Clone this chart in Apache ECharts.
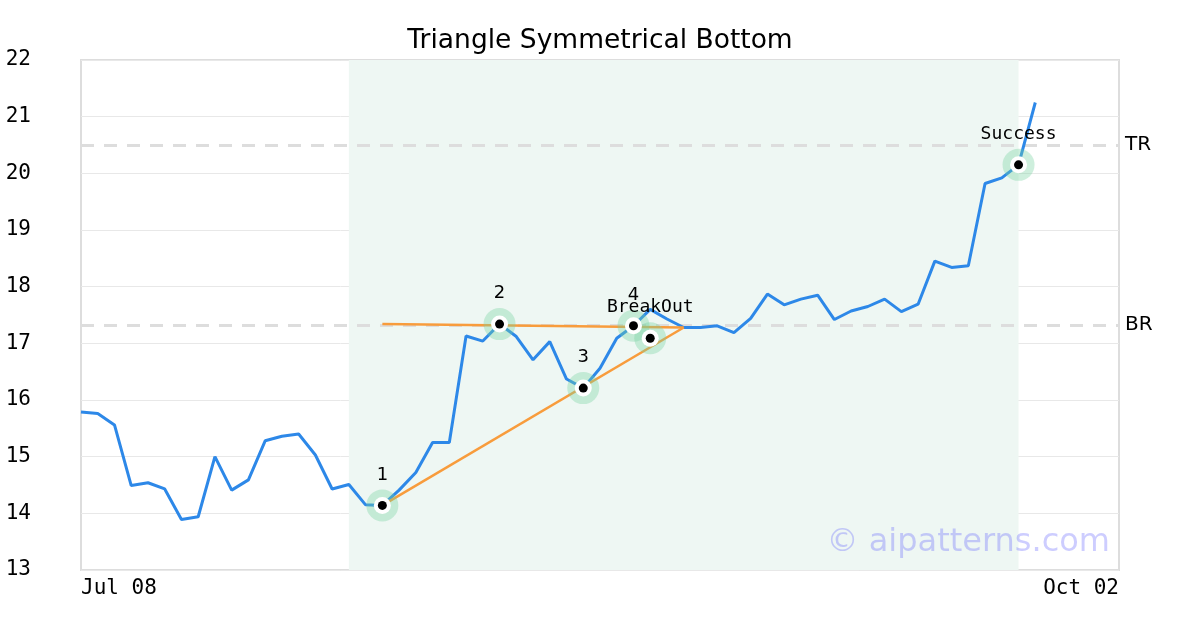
<!DOCTYPE html>
<html>
<head>
<meta charset="utf-8">
<script src="https://cdn.jsdelivr.net/npm/echarts@6/dist/echarts.min.js"></script>
<style>
  html, body { margin: 0; padding: 0; background: #fff; }
  #chart { width: 1200px; height: 630px; }
</style>
</head>
<body>
<div id="chart"></div>
<script>
// x axis ends
var xLabels = ['Jul 08', 'Oct 02']
var xMax = 62

// closing prices, one per trading day
var price = [15.79, 15.76, 15.56, 14.49, 14.54, 14.43, 13.89, 13.94, 15.00, 14.41,
  14.59, 15.28, 15.36, 15.40, 15.03, 14.43, 14.51, 14.15, 14.14, 14.41,
  14.72, 15.25, 15.25, 17.13, 17.04, 17.34, 17.12, 16.71, 17.03, 16.37,
  16.21, 16.56, 17.09, 17.31, 17.60, 17.43, 17.28, 17.28, 17.31, 17.19,
  17.44, 17.87, 17.68, 17.78, 17.85, 17.42, 17.57, 17.65, 17.78, 17.56,
  17.69, 18.45, 18.34, 18.37, 19.82, 19.92, 20.15, 21.25]

// pattern points
var patternX = [18, 25, 30, 33, 34, 56]
var patternY = [14.14, 17.34, 16.21, 17.31, 17.09, 20.15]
var patternLabels = ['1', '2', '3', '4', 'BreakOut', 'Success']

// triangle sides
var upperSide = [[18, 17.34], [36, 17.28]]
var lowerSide = [[18, 14.14], [36, 17.28]]

// pattern window (shaded) and reference levels
var patternStart = 16
var patternEnd = 56
var levelTR = 20.5
var levelBR = 17.32

var mono = "'DejaVu Sans Mono', monospace"
var sans = "'DejaVu Sans', sans-serif"

var lineData = price.map(function (v, i) { return [i, v] })
var pointXY = patternX.map(function (x, i) { return [x, patternY[i]] })
var pointData = patternX.map(function (x, i) {
  var isWord = patternLabels[i].length > 1
  return {
    value: [x, patternY[i]],
    label: { formatter: patternLabels[i], fontFamily: isWord ? mono : sans }
  }
})

var chart = echarts.init(document.getElementById('chart'))
chart.setOption({
  animation: false,
  backgroundColor: '#fff',
  title: {
    text: 'Triangle Symmetrical Bottom',
    left: 'center',
    top: 23,
    textStyle: { fontFamily: sans, fontSize: 26.5, fontWeight: 'normal', color: '#000' }
  },
  grid: {
    left: 81, right: 81, top: 60, bottom: 60,
    show: true, borderColor: '#ddd', borderWidth: 2, backgroundColor: 'transparent'
  },
  xAxis: {
    type: 'value',
    min: 0,
    max: xMax,
    interval: xMax,
    axisLine: { show: false },
    axisTick: { show: false },
    splitLine: { show: false },
    axisLabel: {
      margin: 8,
      fontFamily: mono,
      fontSize: 21,
      color: '#000',
      alignMinLabel: 'left',
      alignMaxLabel: 'right',
      formatter: function (v) { return v === 0 ? xLabels[0] : xLabels[1] }
    }
  },
  yAxis: {
    type: 'value',
    min: 13,
    max: 22,
    interval: 1,
    axisLine: { show: false },
    axisTick: { show: false },
    splitLine: { lineStyle: { color: '#e8e8e8', width: 1 } },
    axisLabel: { margin: 50, fontFamily: mono, fontSize: 21, color: '#000', padding: [6, 0, 0, 0] }
  },
  graphic: [{
    type: 'text',
    right: 90,
    top: 527,
    style: {
      text: '\u00a9 aipatterns.com',
      font: "32px 'DejaVu Sans', sans-serif",
      fill: 'rgba(90, 90, 255, 0.3)'
    },
    z: 100
  }],
  series: [
    {
      // background: pattern window and TR/BR levels
      type: 'line',
      data: [],
      z: 1,
      markArea: {
        silent: true,
        z: 0,
        itemStyle: { color: '#eef7f3' },
        data: [[{ xAxis: patternStart }, { xAxis: patternEnd }]]
      },
      markLine: {
        silent: true,
        z: 1,
        symbol: 'none',
        lineStyle: { color: '#ddd', width: 3, type: [13, 10] },
        label: { position: 'end', distance: 6, fontFamily: sans, fontSize: 20, color: '#000' },
        data: [
          { yAxis: levelTR, label: { formatter: 'TR' } },
          { yAxis: levelBR, label: { formatter: 'BR' } }
        ]
      }
    },
    {
      type: 'line',
      data: lineData,
      showSymbol: false,
      lineStyle: { color: '#2d88e8', width: 3 },
      z: 3
    },
    {
      type: 'line',
      data: upperSide,
      showSymbol: false,
      lineStyle: { color: '#f89c3c', width: 2.5 },
      z: 4
    },
    {
      type: 'line',
      data: lowerSide,
      showSymbol: false,
      lineStyle: { color: '#f89c3c', width: 2.5 },
      z: 4
    },
    {
      type: 'scatter',
      data: pointXY,
      symbolSize: 32,
      itemStyle: { color: 'rgba(120, 210, 160, 0.45)' },
      z: 5
    },
    {
      type: 'scatter',
      data: pointXY,
      symbolSize: 17,
      itemStyle: { color: '#fff', opacity: 1 },
      z: 6
    },
    {
      type: 'scatter',
      data: pointData,
      symbolSize: 9,
      itemStyle: { color: '#000', opacity: 1 },
      label: { show: true, position: 'top', distance: 17, fontSize: 18, color: '#000' },
      z: 7
    }
  ]
})
</script>
</body>
</html>
